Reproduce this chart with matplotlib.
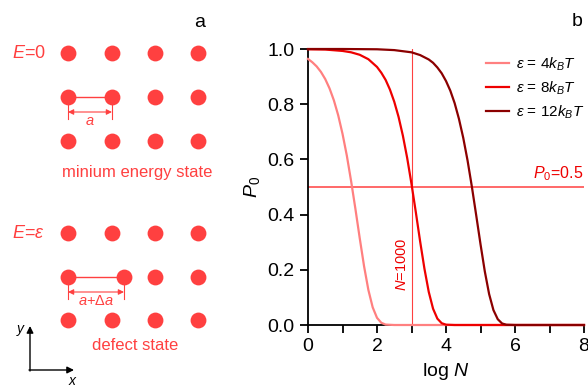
import matplotlib.pyplot as plt

plt.rcParams['font.family'] = ['Liberation Sans', 'DejaVu Sans']
plt.rcParams['mathtext.fontset'] = 'custom'
plt.rcParams['mathtext.rm'] = 'Liberation Sans'
plt.rcParams['mathtext.it'] = 'Liberation Sans:italic'

log_n4 = [0, 0.125, 0.25, 0.375, 0.5, 0.625, 0.75, 0.875, 1.0, 1.125, 1.25, 1.375,
          1.5, 1.625, 1.75, 1.875, 2.0, 2.125, 2.25, 2.5, 8]
p4 = [0.964, 0.952, 0.937, 0.917, 0.891, 0.857, 0.814, 0.760, 0.693, 0.614,
      0.521, 0.420, 0.314, 0.213, 0.127, 0.064, 0.026, 0.008, 0.0015, 0, 0]
log_n8 = [0, 0.5, 1.0, 1.25, 1.5, 1.75, 2.0, 2.125, 2.25, 2.375, 2.5, 2.625, 2.75,
          2.875, 3.0, 3.125, 3.25, 3.375, 3.5, 3.625, 3.75, 3.875, 4.0, 4.25, 8]
p8 = [0.999, 0.998, 0.993, 0.988, 0.979, 0.963, 0.935, 0.914, 0.888, 0.853,
      0.809, 0.754, 0.686, 0.605, 0.511, 0.409, 0.303, 0.204, 0.120, 0.059,
      0.023, 0.0065, 0.0012, 0, 0]
log_n12 = [0, 1, 2, 2.5, 3, 3.25, 3.5, 3.625, 3.75, 3.875, 4.0, 4.125, 4.25, 4.375,
           4.5, 4.625, 4.75, 4.875, 5.0, 5.125, 5.25, 5.375, 5.5, 5.625, 5.75,
           6.0, 8]
p12 = [1.0, 1.0, 0.999, 0.996, 0.988, 0.978, 0.962, 0.950, 0.933, 0.912, 0.884,
       0.849, 0.804, 0.747, 0.678, 0.596, 0.501, 0.398, 0.293, 0.194, 0.112,
       0.054, 0.021, 0.0056, 0.001, 0, 0]
labels = [r'$\varepsilon$ = 4$k_BT$', r'$\varepsilon$ = 8$k_BT$', r'$\varepsilon$ = 12$k_BT$']
colors = ['#ff8080', '#ee0000', '#8b0000']
p_half = 0.5
log_n_mark = 3

red = '#ff4040'

fig = plt.figure(figsize=(5.88, 3.92), dpi=100)

# panel a: schematic, drawn in pixel units
axa = fig.add_axes([0, 0, 240 / 588, 1])
axa.set_xlim(0, 240)
axa.set_ylim(392, 0)
axa.axis('off')

cols = [68, 112, 155, 198]
rows_top = [53, 97, 141]
rows_bot = [233, 277, 320]
shifted_x = 124  # displaced atom in defect state

for r in rows_top:
    axa.scatter(cols, [r] * 4, s=130, color=red, lw=0, zorder=3)
for i, r in enumerate(rows_bot):
    xs = list(cols)
    if i == 1:
        xs[1] = shifted_x
    axa.scatter(xs, [r] * 4, s=130, color=red, lw=0, zorder=3)


def dimension(x0, x1, y, label):
    axa.plot([x0, x1], [y, y], color=red, lw=1)
    axa.plot([x0, x0], [y, y + 22], color=red, lw=0.8)
    axa.plot([x1, x1], [y, y + 22], color=red, lw=0.8)
    axa.annotate('', xy=(x0, y + 15), xytext=(x1, y + 15),
                 arrowprops=dict(arrowstyle='<|-|>', color=red, lw=0.8,
                                 shrinkA=0, shrinkB=0, mutation_scale=8))
    axa.text((x0 + x1) / 2, y + 24, label, color=red, fontsize=10.5,
             ha='center', va='center')


dimension(cols[0], cols[1], rows_top[1], '$a$')
dimension(cols[0], shifted_x, rows_bot[1], r'$a$+$\Delta a$')

axa.text(12, 53, '$E$=0', color=red, fontsize=13, ha='left', va='center')
axa.text(12, 233, r'$E$=$\varepsilon$', color=red, fontsize=13, ha='left', va='center')
axa.text(137, 172, 'minium energy state', color=red, fontsize=12, ha='center', va='center')
axa.text(135, 346, 'defect state', color=red, fontsize=12, ha='center', va='center')
axa.text(200, 22, 'a', fontsize=14, ha='center', va='center')

axa.annotate('', xy=(30, 326), xytext=(30, 371),
             arrowprops=dict(arrowstyle='-|>', color='black', lw=1,
                             shrinkA=0, shrinkB=0, mutation_scale=10))
axa.annotate('', xy=(74, 370), xytext=(29, 370),
             arrowprops=dict(arrowstyle='-|>', color='black', lw=1,
                             shrinkA=0, shrinkB=0, mutation_scale=10))
axa.text(21, 330, '$y$', fontsize=10, ha='center', va='center')
axa.text(73, 381, '$x$', fontsize=10, ha='center', va='center')

# panel b
ax = fig.add_axes([308 / 588, 1 - 325 / 392, 276 / 588, 276 / 392])
for xs, ys, lab, c in zip([log_n4, log_n8, log_n12], [p4, p8, p12], labels, colors):
    ax.plot(xs, ys, color=c, lw=1.6, label=lab, clip_on=False, zorder=4)

ax.axhline(p_half, color=red, lw=1.1, zorder=2)
ax.plot([log_n_mark, log_n_mark], [0, 1], color=red, lw=0.8, zorder=2)
ax.text(7.98, p_half + 0.015, '$P_0$=0.5', color='#ee0000', fontsize=11.5,
        ha='right', va='bottom')
ax.text(log_n_mark - 0.28, 0.22, '$N$=1000', color='#ee0000', fontsize=10.5,
        rotation=90, ha='center', va='center')

ax.set_xlim(0, 8)
ax.set_ylim(0, 1)
ax.set_xticks(range(0, 9, 2))
ax.set_xticks(range(0, 9), minor=True)
ax.set_yticks([0, 0.2, 0.4, 0.6, 0.8, 1.0])
ax.set_yticklabels(['0.0', '0.2', '0.4', '0.6', '0.8', '1.0'])
for s in ['top', 'right']:
    ax.spines[s].set_visible(False)
for s in ['left', 'bottom']:
    ax.spines[s].set_linewidth(1.3)
ax.tick_params(which='both', direction='out', width=1.3, labelsize=14)
ax.tick_params(which='major', length=6)
ax.tick_params(which='minor', length=6)
ax.set_xlabel('log $N$', fontsize=14, labelpad=4)
ax.set_ylabel('$P_0$', fontsize=14, labelpad=4)

ax.legend(loc='upper left', bbox_to_anchor=(0.622, 1.0), frameon=False,
          fontsize=11, handlelength=1.5, handletextpad=0.5, labelspacing=0.45,
          borderaxespad=0)
fig.text(577 / 588, 1 - 22 / 392, 'b', fontsize=14, ha='center', va='center')

fig.savefig('out.png', dpi=100)
